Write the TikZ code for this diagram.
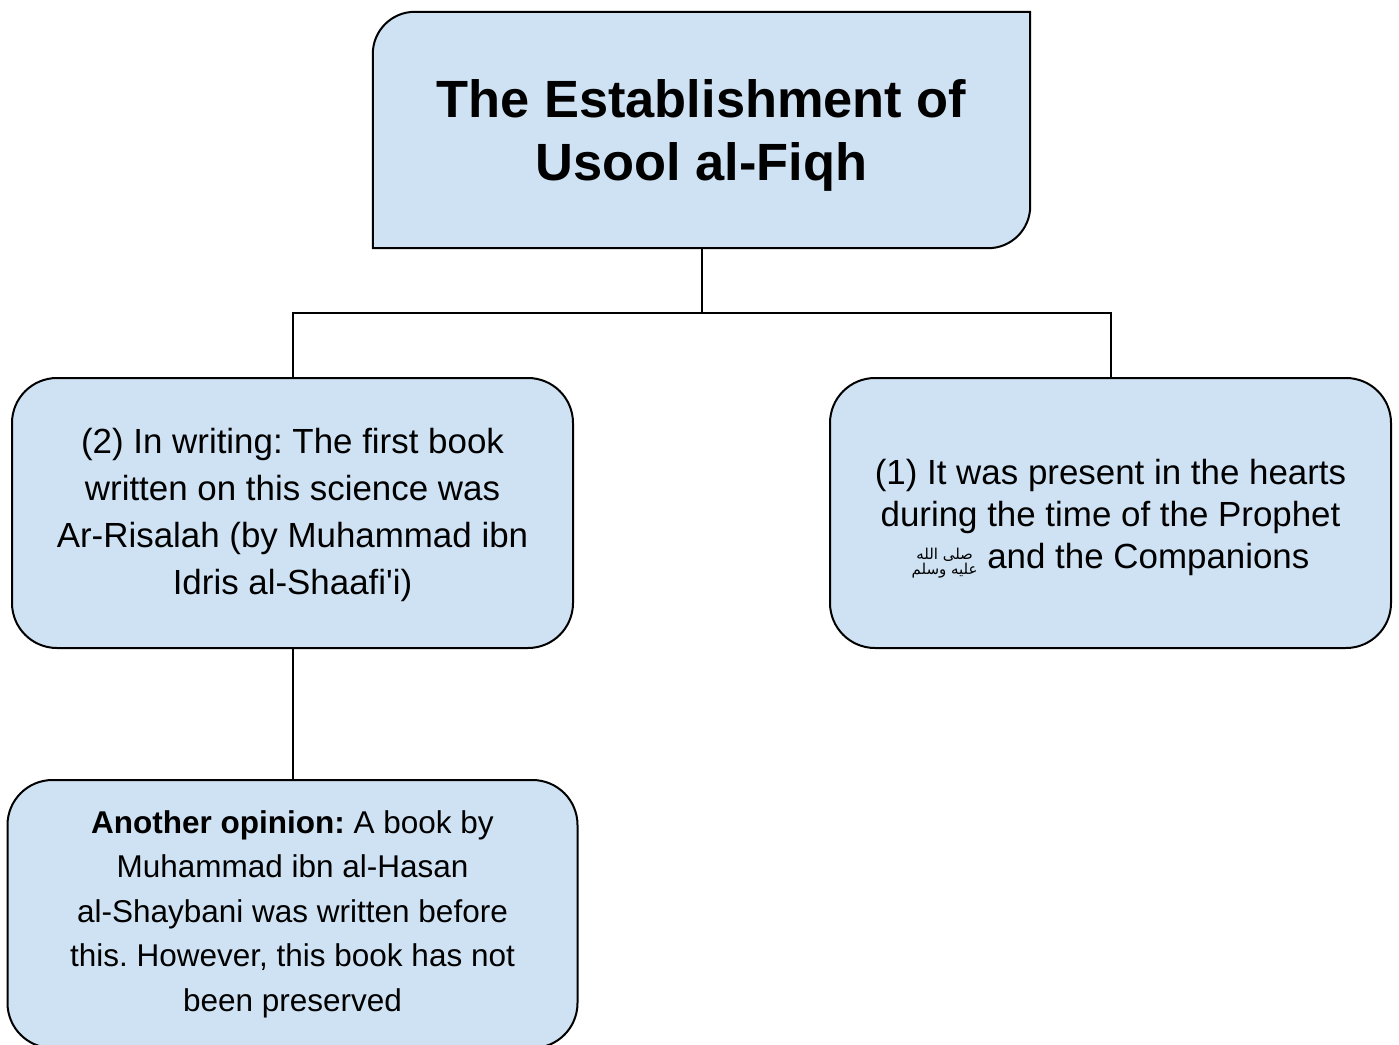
\documentclass[tikz,border=0pt]{standalone}
\usepackage{fontspec}
\setmainfont{Liberation Sans}
\newfontfamily\arabicfont[Script=Arabic]{DejaVu Sans}
\TeXXeTstate=1
\frenchspacing
\usetikzlibrary{positioning,backgrounds}
\definecolor{boxblue}{RGB}{207,226,243}
\tikzstyle{line} = [draw, line width=2pt]
\newcommand{\pbuh}{\smash{\raisebox{0.1ex}{\arabicfont\fontsize{15}{13}\selectfont\def\arraystretch{0.85}%
  \begin{tabular}{@{}c@{}}\beginR صلى الله\endR\\ \beginR عليه وسلم\endR\end{tabular}}}}

\begin{document}
\begin{tikzpicture}[x=1pt, y=-1pt,
    branch/.style={rectangle, draw, line width=2pt, fill=boxblue, rounded corners=45pt, align=center, minimum width=561pt, minimum height=270pt, inner sep=0pt},
    heading/.style={rectangle, align=center, minimum width=657pt, minimum height=236pt, inner sep=0pt, font=\fontsize{52.4}{63}\selectfont\bfseries}]
    \useasboundingbox (0,0) rectangle (1399,1044);

    \node[heading] (Establishment) at (701.5,130) {\rule{0pt}{48pt}The Establishment of\\Usool al-Fiqh};
    \begin{scope}[on background layer]
        \path[line, fill=boxblue] (Establishment.south west) -- ([yshift=-42pt]Establishment.north west)
            arc[start angle=180, end angle=90, radius=42pt] -- (Establishment.north east)
            -- ([yshift=42pt]Establishment.south east) arc[start angle=0, end angle=-90, radius=42pt] -- cycle;
    \end{scope}

    \node[branch, font=\fontsize{34.9}{47}\selectfont] (Writing) at (292.5,513) {\rule{0pt}{30pt}(2) In writing: The first book\\written on this science was\\Ar-Risalah (by Muhammad ibn\\Idris al-Shaafi\textquotesingle i)};
    \node[branch, font=\fontsize{34.9}{42}\selectfont] (Hearts) at (1110.5,513) {\rule{0pt}{34pt}(1) It was present in the hearts\\during the time of the Prophet\\\pbuh{} and the Companions};
    \node[branch, below=130pt of Writing, minimum width=570pt, minimum height=268pt, font=\fontsize{31.5}{44.5}\selectfont] (Opinion) {\textbf{Another opinion:} A book by\\Muhammad ibn al-Hasan\\al-Shaybani was written before\\this. However, this book has not\\been preserved};

    \path [line] (Establishment.south) -- ++(0,65) coordinate (Fork);
    \path [line] (Writing.north) |- (Fork) -| (Hearts.north);
    \path [line] (Writing.south) -- (Opinion.north);
\end{tikzpicture}
\end{document}
